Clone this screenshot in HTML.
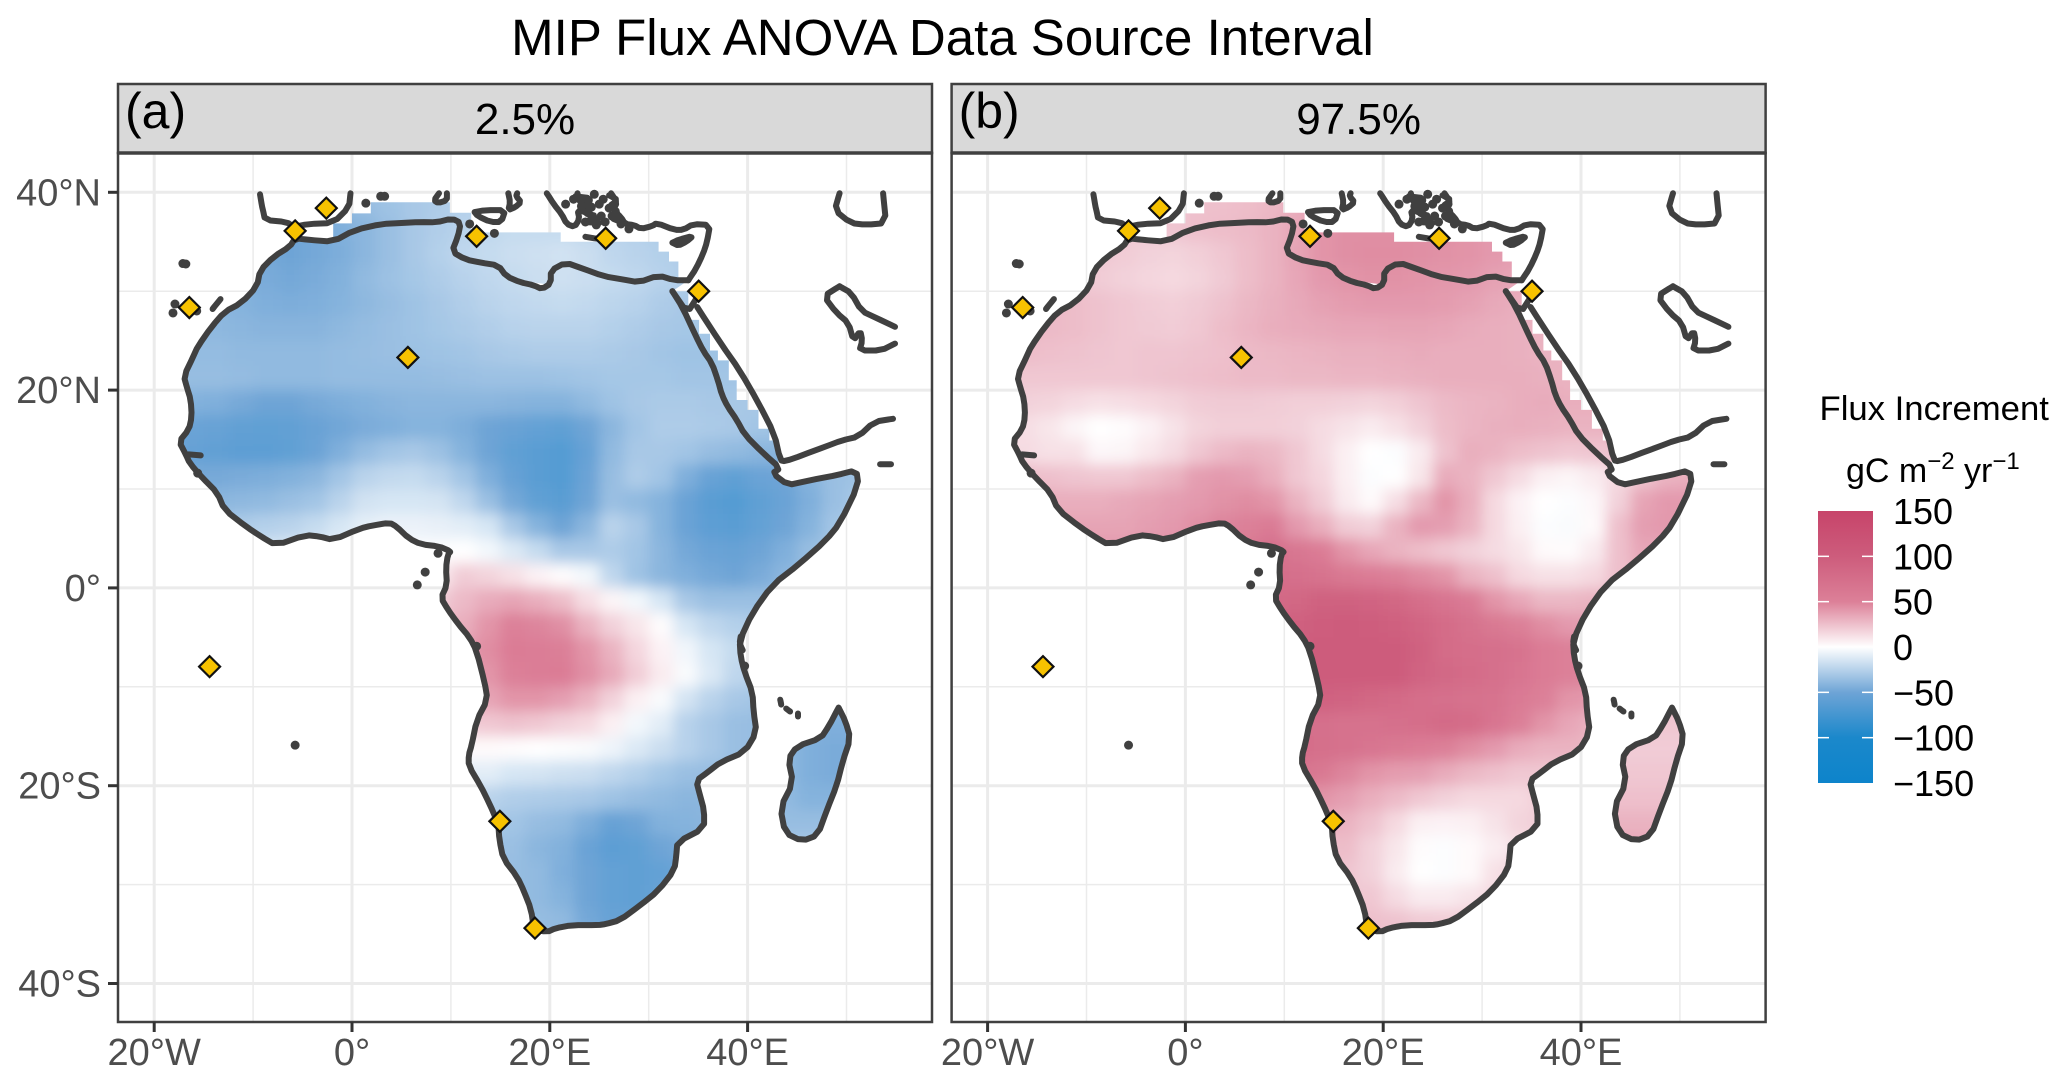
<!DOCTYPE html>
<html lang="en">
<head>
<meta charset="utf-8">
<title>MIP Flux ANOVA Data Source Interval</title>
<style>
html,body{margin:0;padding:0;background:#fff;width:2067px;height:1084px;overflow:hidden}
svg{display:block;font-family:"Liberation Sans",Arial,sans-serif}
</style>
</head>
<body>
<svg id="chart" xmlns="http://www.w3.org/2000/svg" width="2067" height="1084" viewBox="0 0 2067 1084">
  <defs>
    <filter id="heat-blur" filterUnits="userSpaceOnUse" x="0" y="0" width="2067" height="1084"><feGaussianBlur stdDeviation="7"/></filter>
    <linearGradient id="legend-gradient" gradientUnits="userSpaceOnUse" x1="0" x2="0" y1="511" y2="783"></linearGradient>
  </defs>
  <rect width="2067" height="1084" fill="#fff"/>
  <text x="942.5" y="55" font-size="51" text-anchor="middle" fill="#000">MIP Flux ANOVA Data Source Interval</text>
  <g id="panels"></g>
  <g>
    <text x="1819.5" y="420" font-size="34.7" fill="#000">Flux Increment</text>
    <text x="1846" y="482" font-size="34" fill="#000">gC m<tspan dy="-13" font-size="24">−2</tspan><tspan dy="13"> yr</tspan><tspan dy="-13" font-size="24">−1</tspan></text>
    <rect id="legend-bar" x="1818" y="511" width="55" height="272" fill="url(#legend-gradient)"/>
    <g id="legend-ticks"></g>
  </g>
</svg>
<script>
const cellLons = [-18.75,-16.25,-13.75,-11.25,-8.75,-6.25,-3.75,-1.25,1.25,3.75,6.25,8.75,11.25,13.75,16.25,18.75,21.25,23.75,26.25,28.75,31.25,33.75,36.25,38.75,41.25,43.75,46.25,48.75,51.25,53.75];
const cellLats = [41.25,38.75,36.25,33.75,31.25,28.75,26.25,23.75,21.25,18.75,16.25,13.75,11.25,8.75,6.25,3.75,1.25,-1.25,-3.75,-6.25,-8.75,-11.25,-13.75,-16.25,-18.75,-21.25,-23.75,-26.25,-28.75,-31.25,-33.75,-36.25];

const panelAValues = [
[-42,-42,-42,-42,-42,-42,-42,-40,-36,-33,-30,-28,-26,-24,-22,-20,-20,-22,-24,-26,-28,-28,-28,-28,-28,-28,-28,-28,-28,-28],
[-42,-42,-42,-42,-42,-42,-42,-40,-36,-33,-30,-28,-26,-24,-22,-20,-20,-22,-24,-26,-28,-28,-28,-28,-28,-28,-28,-28,-28,-28],
[-42,-42,-44,-46,-48,-50,-48,-44,-40,-35,-30,-27,-24,-22,-20,-20,-20,-22,-24,-26,-28,-28,-28,-28,-28,-28,-28,-28,-28,-28],
[-42,-42,-44,-46,-48,-50,-48,-45,-40,-35,-30,-26,-22,-20,-18,-17,-16,-18,-22,-24,-26,-28,-28,-28,-28,-28,-28,-28,-28,-28],
[-40,-40,-42,-44,-46,-48,-46,-43,-38,-34,-31,-28,-25,-22,-20,-18,-17,-18,-20,-22,-25,-27,-28,-28,-28,-28,-28,-28,-28,-28],
[-38,-38,-40,-42,-44,-45,-44,-42,-39,-36,-33,-30,-27,-24,-22,-21,-20,-21,-23,-25,-28,-30,-30,-30,-30,-30,-30,-30,-30,-30],
[-38,-38,-39,-40,-41,-41,-41,-39,-37,-35,-33,-31,-29,-27,-25,-24,-24,-24,-26,-28,-30,-31,-31,-31,-31,-31,-31,-31,-31,-31],
[-37,-37,-37,-38,-38,-38,-38,-37,-36,-35,-34,-33,-32,-30,-29,-28,-28,-28,-29,-30,-32,-33,-33,-33,-33,-33,-33,-33,-33,-33],
[-36,-36,-36,-37,-38,-38,-38,-37,-37,-37,-37,-36,-35,-34,-34,-34,-33,-32,-31,-31,-31,-32,-32,-32,-32,-32,-32,-32,-32,-32],
[-42,-43,-44,-47,-50,-50,-47,-45,-43,-41,-40,-40,-40,-40,-41,-42,-42,-38,-33,-30,-29,-29,-30,-30,-30,-30,-30,-30,-30,-30],
[-48,-52,-54,-57,-58,-57,-53,-49,-46,-44,-42,-42,-45,-50,-53,-56,-58,-50,-40,-32,-28,-28,-29,-30,-32,-33,-33,-33,-33,-33],
[-50,-55,-57,-60,-60,-58,-52,-44,-37,-32,-30,-34,-42,-50,-58,-62,-65,-55,-38,-30,-30,-32,-36,-38,-40,-40,-38,-36,-36,-36],
[-45,-47,-47,-46,-45,-43,-40,-32,-24,-21,-20,-24,-32,-44,-55,-62,-65,-52,-36,-28,-32,-44,-54,-58,-52,-50,-42,-35,-33,-33],
[-40,-40,-40,-39,-38,-35,-32,-24,-16,-14,-14,-15,-22,-35,-48,-58,-62,-50,-35,-38,-42,-52,-62,-65,-58,-52,-44,-35,-30,-30],
[-30,-30,-30,-28,-26,-24,-20,-14,-9,-7,-7,-8,-10,-14,-30,-42,-50,-40,-24,-30,-42,-52,-60,-62,-56,-50,-42,-32,-28,-28],
[-20,-20,-18,-16,-14,-12,-10,-6,-3,-2,-1,-1,0,-4,-12,-20,-30,-30,-28,-32,-40,-48,-52,-54,-50,-44,-36,-30,-28,-28],
[-10,-10,-8,-6,-5,-4,-3,-2,0,3,5,8,20,17,12,5,1,-4,-22,-33,-40,-44,-48,-50,-46,-40,-35,-30,-28,-28],
[5,5,5,5,5,5,5,8,12,15,18,20,27,33,36,32,26,13,4,-4,-14,-30,-35,-35,-35,-33,-30,-30,-30,-30],
[10,10,10,10,10,10,10,10,15,18,20,25,32,42,50,48,44,30,18,10,1,-14,-22,-26,-28,-28,-28,-28,-28,-28],
[10,10,10,10,10,10,10,10,15,20,25,30,38,45,55,54,52,42,30,16,5,-5,-14,-20,-24,-26,-30,-30,-30,-30],
[10,10,10,10,10,10,10,10,15,20,25,30,38,42,50,54,55,44,34,20,8,-2,-12,-22,-26,-28,-30,-30,-30,-30],
[10,10,10,10,10,10,10,10,15,20,25,28,32,36,42,42,38,30,18,6,-2,-15,-24,-30,-32,-34,-35,-35,-35,-35],
[5,5,5,5,5,5,5,5,10,12,15,18,20,22,24,22,18,15,6,-4,-10,-25,-30,-35,-36,-38,-42,-44,-44,-44],
[0,0,0,0,0,0,0,0,0,0,1,1,2,2,1,0,-1,-2,-6,-12,-18,-25,-30,-35,-36,-38,-44,-46,-46,-46],
[-10,-10,-10,-10,-10,-10,-10,-10,-10,-10,-10,-10,-10,-10,-14,-15,-17,-18,-22,-26,-31,-35,-36,-36,-36,-38,-44,-46,-46,-46],
[-22,-22,-22,-22,-22,-22,-22,-22,-22,-22,-22,-22,-22,-24,-27,-28,-29,-30,-33,-36,-38,-40,-40,-40,-38,-38,-42,-42,-42,-42],
[-30,-30,-30,-30,-30,-30,-30,-30,-30,-30,-30,-30,-30,-30,-32,-36,-38,-45,-55,-50,-43,-42,-40,-38,-36,-36,-36,-36,-36,-36],
[-33,-33,-33,-33,-33,-33,-33,-33,-33,-33,-33,-33,-33,-33,-35,-40,-43,-52,-60,-58,-50,-46,-44,-40,-34,-30,-30,-30,-30,-30],
[-35,-35,-35,-35,-35,-35,-35,-35,-35,-35,-35,-35,-35,-35,-36,-38,-44,-50,-56,-58,-56,-50,-48,-44,-30,-28,-28,-28,-28,-28],
[-36,-36,-36,-36,-36,-36,-36,-36,-36,-36,-36,-36,-36,-36,-36,-38,-42,-50,-56,-58,-54,-50,-48,-48,-48,-48,-48,-48,-48,-48],
[-36,-36,-36,-36,-36,-36,-36,-36,-36,-36,-36,-36,-36,-36,-36,-36,-38,-48,-54,-54,-52,-50,-50,-50,-50,-50,-50,-50,-50,-50],
[-36,-36,-36,-36,-36,-36,-36,-36,-36,-36,-36,-36,-36,-36,-36,-36,-38,-48,-54,-54,-52,-50,-50,-50,-50,-50,-50,-50,-50,-50]
];

const panelBValues = [
[22,22,22,22,22,22,22,23,25,25,26,28,32,38,40,40,40,40,40,40,40,40,40,40,40,40,40,40,40,40],
[22,22,22,22,22,22,22,23,25,25,26,28,32,38,40,40,40,40,40,40,40,40,40,40,40,40,40,40,40,40],
[22,22,22,22,22,22,22,23,25,26,27,30,35,42,44,44,44,44,44,42,40,38,38,38,38,38,38,38,38,38],
[22,22,22,22,22,20,18,17,19,22,26,30,36,42,44,45,45,44,43,42,40,38,38,38,38,38,38,38,38,38],
[25,24,24,22,20,18,16,15,17,21,26,30,35,40,42,43,43,42,41,40,37,35,35,35,35,35,35,35,35,35],
[28,28,28,26,24,22,20,19,21,24,28,31,34,37,39,40,40,40,39,37,34,32,32,32,32,32,32,32,32,32],
[28,28,27,26,24,22,21,20,22,26,29,32,33,34,35,35,36,36,35,33,32,31,30,30,30,30,30,30,30,30],
[26,26,25,24,23,22,23,23,24,25,27,28,29,30,31,31,32,33,32,32,32,31,30,30,30,30,30,30,30,30],
[22,22,22,22,22,22,23,24,25,26,27,27,28,28,29,29,30,31,32,32,32,32,31,30,30,30,30,30,30,30],
[20,18,17,14,12,13,15,17,20,21,21,20,19,19,18,17,19,23,27,29,30,32,33,32,32,32,32,32,32,32],
[16,13,10,4,0,1,5,11,17,19,19,19,18,14,11,8,12,18,26,29,31,32,31,30,30,30,30,30,30,30],
[15,14,12,12,3,4,9,14,22,27,30,28,22,14,6,0,-1,8,24,32,30,26,24,22,23,25,28,30,30,30],
[28,26,25,23,22,22,26,30,38,40,38,32,22,16,6,-1,0,10,33,30,22,14,6,4,8,15,24,30,32,32],
[32,32,32,32,32,34,36,38,40,43,45,42,30,20,8,2,13,28,42,32,15,5,0,-1,3,18,36,40,40,40],
[36,36,36,36,36,36,38,40,44,48,50,58,40,32,20,18,30,40,38,30,15,6,-1,-2,2,25,38,40,40,40],
[40,40,40,40,40,40,42,45,48,55,60,72,62,55,42,35,30,26,22,18,14,10,2,1,8,25,35,35,35,35],
[45,45,45,45,45,45,45,48,52,60,70,76,72,68,60,55,50,46,42,30,25,15,12,12,15,25,30,30,30,30],
[60,60,60,60,60,60,60,60,65,70,75,80,85,92,92,90,85,75,65,58,42,35,28,28,30,30,30,30,30,30],
[70,70,70,70,70,70,70,70,75,80,85,88,95,98,100,98,95,88,78,70,60,52,45,40,38,38,38,38,38,38],
[80,80,80,80,80,80,80,80,85,90,95,96,98,100,102,102,100,92,78,75,72,68,55,50,45,40,40,40,40,40],
[80,80,80,80,80,80,80,80,85,90,95,96,98,100,100,100,100,90,82,78,72,65,55,50,48,40,40,40,40,40],
[75,75,75,75,75,75,75,75,80,85,88,90,90,92,90,85,80,75,72,70,68,58,50,42,40,30,30,30,30,30],
[70,70,70,70,70,70,70,70,70,70,70,70,75,72,70,70,72,75,80,78,65,52,42,35,30,22,22,22,22,22],
[70,70,70,70,70,70,70,70,70,70,70,70,76,74,70,65,60,55,50,45,40,33,30,30,28,20,20,20,20,20],
[65,65,65,65,65,65,65,65,65,65,65,65,66,60,48,42,39,38,33,28,25,22,22,22,22,22,22,22,22,22],
[45,45,45,45,45,45,45,45,45,45,45,45,45,42,38,32,27,22,18,15,15,15,20,25,25,25,25,25,25,25],
[32,32,32,32,32,32,32,32,32,32,32,32,32,32,30,24,15,6,5,6,11,17,20,28,30,30,30,30,30,30],
[26,26,26,26,26,26,26,26,26,26,26,26,26,26,26,18,10,1,-1,2,7,12,20,28,35,35,35,35,35,35],
[23,23,23,23,23,23,23,23,23,23,23,23,23,23,23,18,8,0,-1,2,12,18,25,30,30,30,30,30,30,30],
[22,22,22,22,22,22,22,22,22,22,22,22,22,22,22,22,14,8,8,11,15,20,20,20,20,20,20,20,20,20],
[25,25,25,25,25,25,25,25,25,25,25,25,25,25,25,25,24,21,20,20,20,20,20,20,20,20,20,20,20,20],
[25,25,25,25,25,25,25,25,25,25,25,25,25,25,25,25,24,21,20,20,20,20,20,20,20,20,20,20,20,20]
];

const scaleValues = [-150,-100,-50,0,50,100,150];
const scaleColors = ['#0d84cb','#1b88cb','#6ea4d6','#ffffff','#dc8098','#cd5c7c','#c7446a'];
const legendTickValues = [150,100,50,0,-50,-100,-150];
const legendTickLabels = ['150','100','50','0','−50','−100','−150'];

const lonTicks = [-20,0,20,40];
const lonTickLabels = ['20°W','0°','20°E','40°E'];
const lonMinor = [-10,10,30,50];
const latTicks = [40,20,0,-20,-40];
const latTickLabels = ['40°N','20°N','0°','20°S','40°S'];
const latMinor = [30,10,-10,-30];

const panelNames = ['a','b'];
const panelTags = ['(a)','(b)'];
const panelStrips = ['2.5%','97.5%'];

const siteLons = [-16.45,5.65,12.6,25.65,35.05,-5.75,-2.6,-14.4,14.95,18.5];
const siteLats = [28.35,23.3,35.55,35.35,30,36.1,38.4,-7.96,-23.6,-34.4];

const africaCoast = [[32.4,30],[33.4,28.4],[34.8,25.4],[35.5,24],[36.4,22.7],[37,21],[37.4,19.5],[38,18.3],[38.9,17],[39.7,15.5],[41.6,13.6],[43.3,12.1],[42.5,11.6],[44.1,10.4],[45.5,10.7],[47.4,11.1],[49,11.4],[51,11.9],[51.2,10.4],[49.3,6.5],[47.9,4.8],[45.2,2.4],[42.5,0.3],[40.5,-2.5],[39.2,-5.3],[39.3,-7],[39.7,-8.5],[40.5,-10.6],[40.6,-12.5],[40.9,-14.6],[39.7,-16.6],[37.3,-17.6],[36,-18.6],[34.8,-19.5],[35.2,-21],[35.6,-22.5],[35.6,-24.3],[32.9,-25.7],[32.8,-27],[32.6,-28.5],[31,-30.6],[29,-32.2],[27.1,-33.6],[25.6,-34],[24.9,-34.1],[22.2,-34.1],[20.6,-34.4],[19.7,-34.8],[18.4,-34.5],[18.1,-32.5],[17.4,-30.7],[16.7,-29.2],[15.3,-27.4],[14.9,-25.5],[14.8,-23.9],[13.9,-21.8],[13,-20],[11.8,-18],[11.8,-16.9],[12.1,-15.9],[12.6,-13.4],[13.7,-11.3],[13.4,-9.5],[12.6,-6.4],[11.9,-5],[10.7,-3.6],[9.7,-2.2],[9,-1],[9.6,0.3],[9.5,2],[9.7,3.4],[10,3.7],[8.8,4.2],[7,4.4],[5.75,5],[4.5,6.2],[3.8,6.6],[2,6.3],[0.8,6],[-1.9,4.85],[-3.3,5.2],[-4.7,5.35],[-7.7,4.3],[-9.2,5.2],[-10.7,6.2],[-12.9,7.9],[-13.6,9.6],[-15.1,11.1],[-16.4,12.6],[-16.8,13.5],[-17.5,14.8],[-16.5,16],[-16.2,17.3],[-16.3,19],[-16.7,20.3],[-17,21.4],[-16,23.5],[-15.6,24.4],[-14.2,26.4],[-12.9,27.9],[-11.2,28.8],[-9.6,30.5],[-9.3,32.1],[-7.9,33.5],[-6.3,34.5],[-5.75,35.35],[-4.4,35.2],[-1.9,35],[0.3,36.2],[3,36.8],[5,36.9],[6.85,37],[8.5,36.95],[10.1,37.35],[11,36.9],[10.7,35.5],[10.1,34],[11.5,33.2],[13,32.9],[14.8,32.6],[15.6,31.5],[17,30.9],[18.4,30.6],[19.2,30.2],[20.1,30.8],[20.1,32.1],[21.6,32.9],[23.3,32.3],[25.5,31.5],[27.3,31.2],[29,30.9],[31,31.6],[32.6,31.1],[34,31.1]];

const medRasterEdge = [[-1.9,35],[-1.9,36.86],[0,36.86],[0,37.87],[1.9,37.87],[1.9,39],[9.9,39],[9.9,37.94],[12.05,37.94],[12.05,35.95],[21.1,35.95],[21.1,35],[31,35],[31,34],[32.05,34],[32.05,33],[33,33],[33,31],[25,30],[10,32],[0,34]];
const redSeaRasterEdge = [[34,30],[34,27.1],[35.1,27.1],[35.1,25.7],[36.2,25.7],[36.2,24],[37,24],[37,23],[38.1,23],[38.1,21],[38.9,21],[38.9,19],[40,19],[40,18],[41.1,18],[41.1,16.1],[42.2,16.1],[42.2,14.9],[43.1,14.9],[43.1,12.2],[42,12],[37,17],[33,24],[32.4,30]];
const madagascarCoast = [[49.2,-12.1],[49.9,-13.5],[50.4,-15.2],[49.6,-17.6],[49,-20],[48,-22.5],[47.1,-25],[45.5,-25.6],[43.8,-24.8],[43.3,-22.2],[44.6,-19.7],[44.1,-17.3],[45,-16],[47.4,-15.2],[48.2,-14],[49.2,-12.1]];

const otherCoasts = [
[[32.4,30],[33.9,27.8],[34.9,29.4]],
[[34.9,28.4],[37.3,24.7],[39.2,22],[41.1,18.7],[42.7,15.6],[43.3,12.9],[43.8,12.8],[45.5,13.4],[47.9,14.3],[49.5,14.9],[51.2,15.3],[52.8,16.8],[54.7,17.1]],
[[34,31.1],[34.8,32.3],[35.5,33.8],[35.9,35],[36.2,36.7],[34.5,36.8],[33.5,36.2],[32.6,36.2],[30.8,36.9],[30.4,36.6],[29.2,36.3],[28.5,36.7],[27.6,36.8],[27.2,37.5],[26.4,38.2],[26.8,39],[26.2,39.9]],
[[-9.3,39.8],[-9.1,38.6],[-9,38.2],[-8.8,37.2],[-6.6,37],[-5.9,36.5],[-4.4,36.8],[-1.9,36.9],[-0.3,38.5],[-0.15,39.9]],
[[8.8,39.9],[8.3,39.2],[8.7,38.9],[9.6,39.2],[9.6,39.9]],
[[12.4,38],[13.5,38.2],[15.5,38.2],[15.1,37],[14,37],[12.7,37.6],[12.4,38]],
[[15.8,39.9],[16,39],[15.8,38.2],[16.5,38.5],[17.1,39],[16.6,39.6],[16.7,39.9]],
[[19.7,39.9],[20.4,38.8],[21.2,37.8],[21.7,36.8],[22.5,36.5],[23,37.3],[22.8,38.2],[23.6,38],[24,37.7],[24,38.3],[23,39],[22.8,39.9]],
[[22.6,39.6],[24.2,39.4],[23.2,38.8],[24.6,38.6],[23.4,37.9],[24.8,37.6],[23.6,37],[25,36.9]],
[[26,39.7],[26.9,39.2],[26,38.6],[27,38],[26.2,37.4],[27.2,37]],
[[23.6,35.5],[24.8,35.3],[26.2,35.2]],
[[32.4,34.9],[33,35.2],[34.5,35.6],[33.8,35],[33,34.6],[32.4,34.9]],
[[49.3,39.9],[48.8,38.2],[50.4,36.9],[52,36.7],[54,36.9],[53.7,39.9]],
[[49.3,30.5],[47.7,29.5],[49,27.8],[50.2,26.8],[50.7,25],[51.4,26],[51.6,25],[51.3,24],[53.5,24],[54.9,24.7]],
[[49.3,30.5],[50.5,29.8],[51.5,28],[53,27.3],[54.9,26.4]],
[[-16.5,13.5],[-15.3,13.4]],
[[39.3,-4.9],[39.2,-5.6],[39.5,-6.3]],
[[-13.3,29.2],[-14.1,28.2]],
[[53.4,12.5],[54.5,12.5]],
[[43.3,-11.3],[43.4,-11.8]],
[[43.9,-12.2],[44.3,-12.5]],
[[45.1,-12.7],[45.1,-13]]
];

const islandDots = [[-17.1,32.8],[-16.8,32.75],[-17.9,28.7],[-18.1,27.8],[-15.7,28],[1.4,38.9],[2.9,39.6],[3.3,39.6],[14.4,35.85],[11.9,36.8],[7.4,1.6],[6.6,0.3],[8.7,3.5],[-5.75,-15.9],[-15.6,11.6],[12.6,-5.9],[39.7,-7.9],[21.6,38.8],[22.4,39.3],[23.9,39.2],[24.2,38.5],[24.5,39.8],[25.4,39.3],[26,38.4],[25.2,37.6],[25.6,37],[24.6,37.2],[26.3,37.6],[27.2,36.8],[28,36.3],[23.2,38.6],[25,38.8],[23.6,37],[24.7,36.7]];

const svgNS = 'http://www.w3.org/2000/svg';
const pxPerDeg = 9.89;
const panelOriginX = [352,1185.4];
const panelLeft = [118,951.6];
const panelWidth = 814;
const panelTop = 153;
const panelBottom = 1022;
const stripTop = 84;

function xAxis(p, lon){ return panelOriginX[p] + pxPerDeg * lon; }
function yAxis(lat){ return 587.9 - pxPerDeg * lat; }
function legendY(v){ return 647 - v * (272 / 300); }

function hexToRgb(h){ return [parseInt(h.slice(1,3),16),parseInt(h.slice(3,5),16),parseInt(h.slice(5,7),16)]; }
function colorFor(v){
  if (v <= scaleValues[0]) return scaleColors[0];
  for (let i = 1; i < scaleValues.length; i++) {
    if (v <= scaleValues[i]) {
      const t = (v - scaleValues[i-1]) / (scaleValues[i] - scaleValues[i-1]);
      const a = hexToRgb(scaleColors[i-1]);
      const b = hexToRgb(scaleColors[i]);
      return 'rgb(' + a.map((c,k) => Math.round(c + (b[k]-c)*t)).join(',') + ')';
    }
  }
  return scaleColors[scaleColors.length-1];
}
function make(tag, attrs, parent){
  const el = document.createElementNS(svgNS, tag);
  for (const k in attrs) el.setAttribute(k, attrs[k]);
  if (parent) parent.appendChild(el);
  return el;
}
function rounded(line){
  const out = [line[0]];
  for (let i = 0; i < line.length - 1; i++) {
    const a = line[i], b = line[i+1];
    out.push([a[0]*0.75 + b[0]*0.25, a[1]*0.75 + b[1]*0.25]);
    out.push([a[0]*0.25 + b[0]*0.75, a[1]*0.25 + b[1]*0.75]);
  }
  out.push(line[line.length-1]);
  return out;
}
function pointsFor(p, line){ return line.map(c => xAxis(p,c[0]).toFixed(1) + ',' + yAxis(c[1]).toFixed(1)).join(' '); }

const svg = document.getElementById('chart');
const defs = svg.querySelector('defs');
const panelsRoot = document.getElementById('panels');

function drawPanel(p){
  const values = p === 0 ? panelAValues : panelBValues;
  const left = panelLeft[p];
  const root = make('g', {}, panelsRoot);
  
  

  const clip = make('clipPath', {id:'panel-clip-' + p}, defs);
  make('rect', {x:left, y:panelTop, width:panelWidth, height:panelBottom-panelTop}, clip);
  const landClip = make('clipPath', {id:'land-clip-' + p}, defs);
  make('polygon', {points:pointsFor(p, rounded(africaCoast))}, landClip);
  make('polygon', {points:pointsFor(p, medRasterEdge)}, landClip);
  make('polygon', {points:pointsFor(p, redSeaRasterEdge)}, landClip);
  make('polygon', {points:pointsFor(p, rounded(madagascarCoast))}, landClip);

  const grid = make('g', {stroke:'#ebebeb', 'clip-path':'url(#panel-clip-' + p + ')'}, root);
  
  
  lonMinor.forEach(lon => {
    const l = make('line', {x1:xAxis(p,lon), x2:xAxis(p,lon), y1:panelTop, y2:panelBottom, 'stroke-width':1.5}, grid);
    
    
  });
  latMinor.forEach(lat => {
    const l = make('line', {x1:left, x2:left+panelWidth, y1:yAxis(lat), y2:yAxis(lat), 'stroke-width':1.5}, grid);
    
    
  });
  lonTicks.forEach(lon => {
    const l = make('line', {x1:xAxis(p,lon), x2:xAxis(p,lon), y1:panelTop, y2:panelBottom, 'stroke-width':3}, grid);
    
    
  });
  latTicks.forEach(lat => {
    const l = make('line', {x1:left, x2:left+panelWidth, y1:yAxis(lat), y2:yAxis(lat), 'stroke-width':3}, grid);
    
    
  });

  const clipGroup = make('g', {'clip-path':'url(#land-clip-' + p + ')'}, root);
  const heat = make('g', {filter:'url(#heat-blur)'}, clipGroup);
  
  
  cellLats.forEach((lat, r) => {
    cellLons.forEach((lon, c) => {
      const cell = make('rect', {
        x: xAxis(p, lon - 1.25).toFixed(2),
        y: yAxis(lat + 1.25).toFixed(2),
        width: (pxPerDeg * 2.5 + 0.6).toFixed(2),
        height: (pxPerDeg * 2.5 + 0.6).toFixed(2),
        fill: colorFor(values[r][c])
      }, heat);
      
      
    });
  });

  const coastStyle = {fill:'none', stroke:'#404040', 'stroke-width':6, 'stroke-linejoin':'round', 'stroke-linecap':'round'};
  const coast = make('g', Object.assign({'clip-path':'url(#panel-clip-' + p + ')'}, coastStyle), root);
  
  
  [africaCoast, madagascarCoast].concat(otherCoasts).forEach(line => {
    const seg = make('polyline', {points:pointsFor(p, rounded(line))}, coast);
    
    
  });
  islandDots.forEach(d => {
    const dot = make('circle', {cx:xAxis(p,d[0]), cy:yAxis(d[1]), r:4.5, fill:'#404040', stroke:'none'}, coast);
    
    
  });

  siteLons.forEach((lon, i) => {
    const cx = xAxis(p, lon);
    const cy = yAxis(siteLats[i]);
    const h = 10.5;
    const m = make('polygon', {points:[cx,cy-h,cx+h,cy,cx,cy+h,cx-h,cy].join(' '), fill:'#f7c200', stroke:'#111', 'stroke-width':2.2, 'stroke-linejoin':'miter'}, root);
    
    
  });

  const frame = make('rect', {x:left, y:panelTop, width:panelWidth, height:panelBottom-panelTop, fill:'none', stroke:'#404040', 'stroke-width':2.5}, root);
  
  

  const strip = make('rect', {x:left, y:stripTop, width:panelWidth, height:panelTop-stripTop, fill:'#d9d9d9', stroke:'#404040', 'stroke-width':2.5}, root);
  
  
  const stripLine = make('line', {x1:left, x2:left+panelWidth, y1:panelTop, y2:panelTop, stroke:'#404040', 'stroke-width':3.5}, root);
  
  

  const tag = make('text', {x:left+7, y:128, 'font-size':50, fill:'#000'}, root);
  tag.textContent = panelTags[p];
  
  
  const stripText = make('text', {x:left+panelWidth/2, y:134, 'font-size':44, 'text-anchor':'middle', fill:'#000'}, root);
  stripText.textContent = panelStrips[p];
  
  

  lonTicks.forEach((lon, i) => {
    const t = make('line', {x1:xAxis(p,lon), x2:xAxis(p,lon), y1:panelBottom, y2:panelBottom+10, stroke:'#333', 'stroke-width':3}, root);
    
    
    const lab = make('text', {x:xAxis(p,lon), y:1065, 'font-size':38, 'text-anchor':'middle', fill:'#4d4d4d'}, root);
    lab.textContent = lonTickLabels[i];
    
    
  });
  if (p === 0) {
    latTicks.forEach((lat, i) => {
      const t = make('line', {x1:left-10, x2:left, y1:yAxis(lat), y2:yAxis(lat), stroke:'#333', 'stroke-width':3}, root);
      
      
      const lab = make('text', {x:101, y:yAxis(lat)+13, 'font-size':38, 'text-anchor':'end', fill:'#4d4d4d'}, root);
      lab.textContent = latTickLabels[i];
      
      
    });
  }
}
panelNames.forEach((n, p) => drawPanel(p));

const grad = document.getElementById('legend-gradient');
grad.setAttribute('y1', legendY(150));
grad.setAttribute('y2', legendY(-150));
scaleValues.slice().reverse().forEach(v => {
  make('stop', {offset:(150 - v) / 300, 'stop-color':colorFor(v)}, grad);
});
const legendTicks = document.getElementById('legend-ticks');
legendTickValues.forEach((v, i) => {
  if (Math.abs(v) !== 150 && v !== 0) {
    const a = make('line', {x1:1818, x2:1829, y1:legendY(v), y2:legendY(v), stroke:'#fff', 'stroke-width':1.5}, legendTicks);
    
    
    const b = make('line', {x1:1862, x2:1873, y1:legendY(v), y2:legendY(v), stroke:'#fff', 'stroke-width':1.5}, legendTicks);
    
    
  }
  const t = make('text', {x:1893, y:legendY(v)+13, 'font-size':36, fill:'#000'}, legendTicks);
  t.textContent = legendTickLabels[i];
  
  
});
</script>
</body>
</html>
